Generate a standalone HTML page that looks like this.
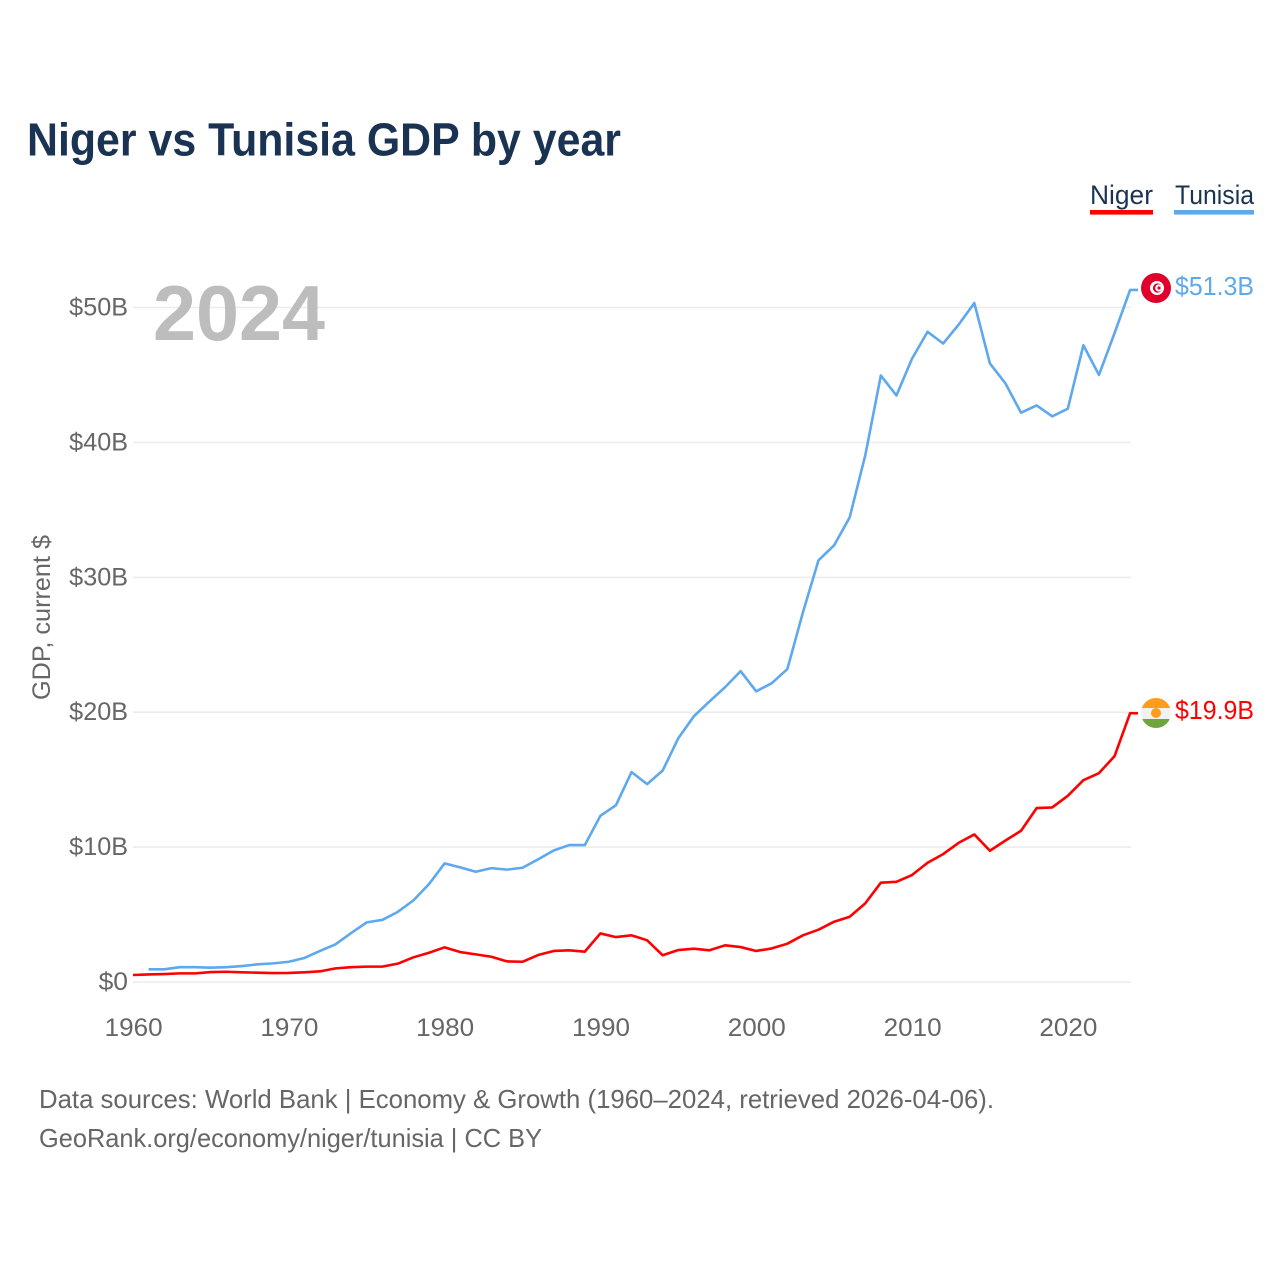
<!DOCTYPE html>
<html lang="en">
<head>
<meta charset="utf-8">
<title>Niger vs Tunisia GDP by year</title>
<style>
html,body{margin:0;padding:0;background:#fff;}
svg{display:block;font-family:"Liberation Sans",sans-serif;}
</style>
</head>
<body>
<svg id="chart" xmlns="http://www.w3.org/2000/svg" width="1280" height="1280" viewBox="0 0 1280 1280">
  <defs>
    <clipPath id="clip-ne"><circle cx="1156" cy="713" r="15"/></clipPath>
  </defs>
  <rect x="0" y="0" width="1280" height="1280" fill="#fff"/>
  <text x="27" y="155.5" font-size="46" font-weight="700" fill="#1a3353" textLength="594" lengthAdjust="spacingAndGlyphs">Niger vs Tunisia GDP by year</text>

  <g id="grid"></g>
  <g id="yticks"></g>
  <g id="xticks"></g>

  <text x="153" y="340" font-size="78" font-weight="700" fill="#bdbdbd" textLength="172" lengthAdjust="spacingAndGlyphs">2024</text>
  <text transform="translate(50,700) rotate(-90)" font-size="25" fill="#666" textLength="165" lengthAdjust="spacingAndGlyphs">GDP, current $</text>

  <g id="lines"></g>

  <g>
    <g>
      <text x="1090" y="204" font-size="27" fill="#1a3353" textLength="63" lengthAdjust="spacingAndGlyphs">Niger</text>
      <rect x="1090" y="210" width="63" height="4.6" fill="#ff0000"/>
    </g>
    <g>
      <text x="1175" y="204" font-size="27" fill="#1a3353" textLength="79" lengthAdjust="spacingAndGlyphs">Tunisia</text>
      <rect x="1174" y="210" width="80" height="4.6" fill="#5ea8ee"/>
    </g>
  </g>

  <g>
    <circle cx="1156" cy="288" r="15" fill="#e0002a"/>
    <circle cx="1157" cy="288" r="7" fill="#fff"/>
    <circle cx="1157.5" cy="288" r="4.6" fill="#e0002a"/>
    <circle cx="1158.8" cy="288" r="3.6" fill="#fff"/>
    <circle cx="1159" cy="288" r="1.6" fill="#e0002a"/>
  </g>
  <g clip-path="url(#clip-ne)">
    <rect x="1141" y="698" width="30" height="10" fill="#ff9c1a"/>
    <rect x="1141" y="708" width="30" height="11" fill="#f2f2f2"/>
    <rect x="1141" y="719" width="30" height="10" fill="#6ea53c"/>
    <circle cx="1156" cy="713" r="5" fill="#ff9c1a"/>
  </g>
  <text x="1175" y="295" font-size="26" fill="#5ea8ee" textLength="79" lengthAdjust="spacingAndGlyphs">$51.3B</text>
  <text x="1175" y="719" font-size="26" fill="#ff0000" textLength="79" lengthAdjust="spacingAndGlyphs">$19.9B</text>

  <text x="39" y="1108" font-size="26" fill="#666" textLength="955" lengthAdjust="spacingAndGlyphs">Data sources: World Bank | Economy &amp; Growth (1960–2024, retrieved 2026-04-06).</text>
  <text x="39" y="1147" font-size="26" fill="#666" textLength="503" lengthAdjust="spacingAndGlyphs">GeoRank.org/economy/niger/tunisia | CC BY</text>
</svg>
<script>
const NS = 'http://www.w3.org/2000/svg';
const yTickValues = [0, 10, 20, 30, 40, 50];
const yTickLabels = ['$0', '$10B', '$20B', '$30B', '$40B', '$50B'];
const xTickYears = [1960, 1970, 1980, 1990, 2000, 2010, 2020];
const xTickLabels = ['1960', '1970', '1980', '1990', '2000', '2010', '2020'];
const nigerStartYear = 1960;
const tunisiaStartYear = 1961;
const nigerGdp = [0.52,0.56,0.59,0.64,0.64,0.74,0.76,0.72,0.69,0.66,0.67,0.72,0.79,1.01,1.10,1.14,1.14,1.36,1.83,2.17,2.57,2.22,2.05,1.87,1.53,1.50,2.00,2.30,2.35,2.25,3.60,3.33,3.46,3.09,1.98,2.37,2.47,2.35,2.72,2.59,2.30,2.49,2.84,3.46,3.88,4.47,4.84,5.83,7.36,7.43,7.93,8.84,9.48,10.32,10.94,9.73,10.49,11.21,12.89,12.94,13.80,14.96,15.48,16.74,19.93];
const tunisiaGdp = [0.94,0.94,1.10,1.10,1.06,1.10,1.18,1.31,1.38,1.50,1.78,2.30,2.79,3.63,4.42,4.60,5.20,6.05,7.26,8.79,8.50,8.17,8.44,8.33,8.47,9.09,9.75,10.15,10.15,12.32,13.11,15.56,14.67,15.68,18.07,19.70,20.80,21.85,23.04,21.55,22.15,23.20,27.40,31.26,32.37,34.44,39.04,44.96,43.48,46.20,48.20,47.33,48.74,50.33,45.85,44.37,42.20,42.74,41.93,42.50,47.20,45.00,48.10,51.30];

function xScale(year) { return 133 + (year - 1960) * 15.58; }
function yScale(value) { return 982 - value * 13.49; }

function svgEl(tag, parent) {
  const el = document.createElementNS(NS, tag);
  parent.appendChild(el);
  return el;
}

const grid = document.getElementById('grid');
const yticks = document.getElementById('yticks');
const xticks = document.getElementById('xticks');
const lines = document.getElementById('lines');

yTickValues.forEach(function (v, i) {
  const line = svgEl('line', grid);
  
  
  line.setAttribute('x1', 133);
  line.setAttribute('x2', 1131);
  line.setAttribute('y1', yScale(v));
  line.setAttribute('y2', yScale(v));
  line.setAttribute('stroke', '#ececec');
  line.setAttribute('stroke-width', 1.6);

  const label = svgEl('text', yticks);
  
  
  label.setAttribute('x', 128);
  label.setAttribute('y', yScale(v) + 8);
  label.setAttribute('text-anchor', 'end');
  label.setAttribute('font-size', 25);
  label.setAttribute('fill', '#666');
  label.setAttribute('textLength', yTickLabels[i].length * 14.7);
  label.setAttribute('lengthAdjust', 'spacingAndGlyphs');
  label.textContent = yTickLabels[i];
});

xTickYears.forEach(function (yr, i) {
  const label = svgEl('text', xticks);
  
  
  label.setAttribute('x', xScale(yr) + 0.6);
  label.setAttribute('y', 1036);
  label.setAttribute('text-anchor', 'middle');
  label.setAttribute('font-size', 25);
  label.setAttribute('fill', '#666');
  label.setAttribute('textLength', 58);
  label.setAttribute('lengthAdjust', 'spacingAndGlyphs');
  label.textContent = xTickLabels[i];
});

function pointsFor(values, startYear) {
  return values.map(function (v, i) {
    return xScale(startYear + i).toFixed(2) + ',' + yScale(v).toFixed(2);
  });
}

function lastEnd(values) {
  return yScale(values[values.length - 1]);
}

const tunisiaLine = svgEl('polyline', lines);


tunisiaLine.setAttribute('points', pointsFor(tunisiaGdp, tunisiaStartYear).join(' ') + ' 1138,' + lastEnd(tunisiaGdp).toFixed(2));
tunisiaLine.setAttribute('fill', 'none');
tunisiaLine.setAttribute('stroke', '#5ea8ee');
tunisiaLine.setAttribute('stroke-width', 2.6);
tunisiaLine.setAttribute('stroke-linejoin', 'round');

const nigerLine = svgEl('polyline', lines);


nigerLine.setAttribute('points', pointsFor(nigerGdp, nigerStartYear).join(' ') + ' 1138,' + lastEnd(nigerGdp).toFixed(2));
nigerLine.setAttribute('fill', 'none');
nigerLine.setAttribute('stroke', '#ff0000');
nigerLine.setAttribute('stroke-width', 2.6);
nigerLine.setAttribute('stroke-linejoin', 'round');
</script>
</body>
</html>
